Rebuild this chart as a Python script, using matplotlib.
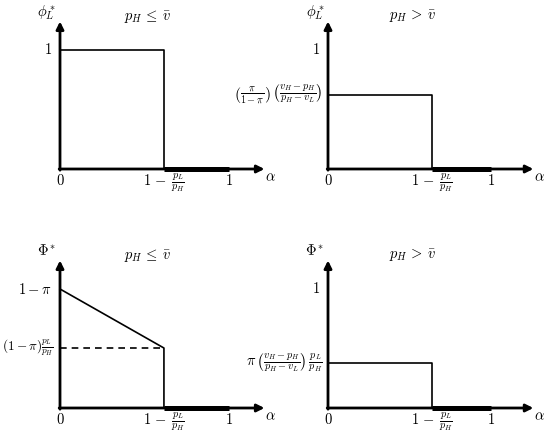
import matplotlib
matplotlib.use("Agg")
import matplotlib.pyplot as plt
import numpy as np

plt.rcParams['mathtext.fontset'] = 'cm'
plt.rcParams['font.family'] = 'serif'
plt.rcParams['font.serif'] = ['cmr10', 'DejaVu Serif']
plt.rcParams['axes.formatter.use_mathtext'] = True

# values
brk_left = 0.615          # 1 - pL/pH in the left panels
brk_right = 0.638         # 1 - pL/pH in the right panels
phi_left = 1.0            # phi_L*  when pH <= vbar
phi_right = 0.62          # phi_L*  when pH >  vbar
Phi_left_start = 1.0      # 1 - pi
Phi_left_end = 0.504      # (1 - pi) pL/pH
Phi_right = 0.38          # pi (...) pL/pH

titles = [r'$p_H\,\leq\,\bar{v}$', r'$p_H\,>\,\bar{v}$',
          r'$p_H\,\leq\,\bar{v}$', r'$p_H\,>\,\bar{v}$']
ylabels = [r'$\phi_L^*$', r'$\phi_L^*$', r'$\Phi^*$', r'$\Phi^*$']
brk_label = r'$1\,-\,\frac{p_L}{p_H}$'

W, H = 550, 434
fig = plt.figure(figsize=(W / 100, H / 100), dpi=100)


def make_panel(box, origin, unit):
    # box: (x0, y0, x1, y1) in pixels, origin: pixel of (0,0), unit: pixels per 1
    x0, y0, x1, y1 = box
    ox, oy = origin
    sx, sy = unit
    ax = fig.add_axes([x0 / W, 1 - y1 / H, (x1 - x0) / W, (y1 - y0) / H])
    ax.set_xlim((x0 - ox) / sx, (x1 - ox) / sx)
    ax.set_ylim((oy - y1) / sy, (oy - y0) / sy)
    ax.axis('off')
    return ax


def draw_axes(ax, brk, xtip, ytip, title, ylab, sy):
    ax.annotate('', xy=(xtip, 0), xytext=(-0.005, 0),
                arrowprops=dict(arrowstyle='-|>', lw=2.0, color='k',
                                mutation_scale=11, shrinkA=0, shrinkB=0))
    ax.annotate('', xy=(0, ytip), xytext=(0, -0.01),
                arrowprops=dict(arrowstyle='-|>', lw=2.0, color='k',
                                mutation_scale=11, shrinkA=0, shrinkB=0))
    ax.plot([brk, 1], [0, 0], color='k', lw=3.6, solid_capstyle='butt')
    ax.text(0, -12 / sy, '0', ha='center', va='center', fontsize=10.5)
    ax.text(1, -12 / sy, '1', ha='center', va='center', fontsize=10.5)
    ax.text(brk, -14 / sy, brk_label, ha='center', va='center', fontsize=10.5)
    ax.text(xtip + 0.035, -8 / sy, r'$\alpha$', ha='center', va='center', fontsize=10.5)
    ax.text(-0.08, ytip + 9 / sy, ylab, ha='center', va='center', fontsize=10.5)
    ax.text(0.52, ytip + 5 / sy, title, ha='center', va='center', fontsize=10.5)


# top left
sy = 119
ax1 = make_panel((0, 0, 275, 217), (60, 169), (169, sy))
draw_axes(ax1, brk_left, 1.21, 1.24, titles[0], ylabels[0], sy)
ax1.plot([0, brk_left, brk_left], [phi_left, phi_left, 0], color='k', lw=1.2)
ax1.text(-0.05, phi_left, '1', ha='right', va='center', fontsize=10.5)

# top right
ax2 = make_panel((275, 0, 550, 217), (328, 169), (163, sy))
draw_axes(ax2, brk_right, 1.26, 1.24, titles[1], ylabels[1], sy)
ax2.plot([0, brk_right, brk_right], [phi_right, phi_right, 0], color='k', lw=1.2)
ax2.text(-0.05, 1.0, '1', ha='right', va='center', fontsize=10.5)
ax2.text(-0.03, phi_right,
         r'$\left(\frac{\pi}{1-\pi}\right)\,\left(\frac{v_H-p_H}{p_H-v_L}\right)$',
         ha='right', va='center', fontsize=10.5)

# bottom left
ax3 = make_panel((0, 217, 275, 434), (60, 408), (169, sy))
draw_axes(ax3, brk_left, 1.21, 1.24, titles[2], ylabels[2], sy)
ax3.plot([0, brk_left, brk_left], [Phi_left_start, Phi_left_end, 0], color='k', lw=1.2)
ax3.plot([0, brk_left], [Phi_left_end, Phi_left_end], color='k', lw=1.2, ls=(0, (4, 3)))
ax3.text(-0.05, Phi_left_start, r'$1-\pi$', ha='right', va='center', fontsize=10.5)
ax3.text(-0.035, Phi_left_end, r'$(1-\pi)\frac{p_L}{p_H}$', ha='right', va='center', fontsize=9.5)

# bottom right
ax4 = make_panel((275, 217, 550, 434), (328, 408), (163, sy))
draw_axes(ax4, brk_right, 1.26, 1.24, titles[3], ylabels[3], sy)
ax4.plot([0, brk_right, brk_right], [Phi_right, Phi_right, 0], color='k', lw=1.2)
ax4.text(-0.05, 1.0, '1', ha='right', va='center', fontsize=10.5)
ax4.text(-0.03, Phi_right,
         r'$\pi\,\left(\frac{v_H-p_H}{p_H-v_L}\right)\,\frac{p_L}{p_H}$',
         ha='right', va='center', fontsize=10.5)

fig.savefig('out.png', dpi=100)
